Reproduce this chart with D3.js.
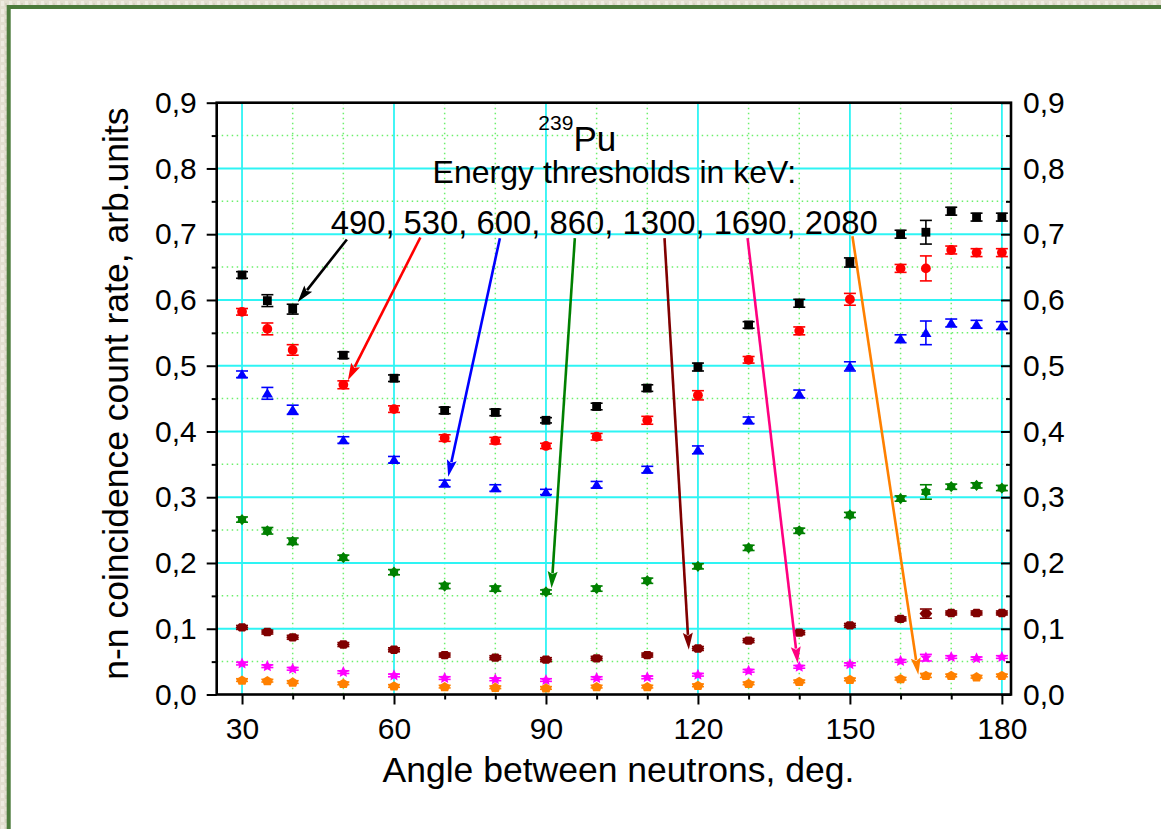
<!DOCTYPE html>
<html>
<head>
<meta charset="utf-8">
<script src="https://cdn.jsdelivr.net/npm/d3@7"></script>
<style>
  html, body { margin: 0; padding: 0; }
  body { width: 1161px; height: 829px; overflow: hidden; background: #e4e0d2; }
  text { font-family: "Liberation Sans", Arial, sans-serif; fill: #000; }
</style>
</head>
<body>
<svg id="chart" width="1161" height="829"></svg>
<script>
// angle between neutrons, deg.
const angles = [30, 35, 40, 50, 60, 70, 80, 90, 100, 110, 120, 130, 140, 150, 160, 165, 170, 175, 180];

// count rate for each energy threshold (keV)
const thr490  = [0.638, 0.599, 0.586, 0.516, 0.481, 0.432, 0.429, 0.417, 0.438, 0.466, 0.498, 0.562, 0.595, 0.657, 0.700, 0.703, 0.735, 0.726, 0.726];
const thr530  = [0.582, 0.556, 0.524, 0.471, 0.434, 0.390, 0.386, 0.378, 0.392, 0.417, 0.455, 0.509, 0.553, 0.601, 0.648, 0.648, 0.676, 0.672, 0.672];
const thr600  = [0.487, 0.458, 0.433, 0.387, 0.357, 0.321, 0.314, 0.308, 0.319, 0.342, 0.372, 0.417, 0.457, 0.499, 0.541, 0.550, 0.565, 0.563, 0.561];
const thr860  = [0.266, 0.249, 0.233, 0.208, 0.186, 0.165, 0.161, 0.156, 0.161, 0.173, 0.195, 0.223, 0.249, 0.273, 0.298, 0.308, 0.316, 0.318, 0.314];
const thr1300 = [0.102, 0.095, 0.087, 0.076, 0.068, 0.060, 0.056, 0.053, 0.055, 0.060, 0.070, 0.082, 0.094, 0.105, 0.115, 0.123, 0.124, 0.124, 0.124];
const thr1690 = [0.047, 0.043, 0.039, 0.034, 0.029, 0.025, 0.023, 0.022, 0.025, 0.026, 0.030, 0.036, 0.042, 0.046, 0.051, 0.056, 0.057, 0.055, 0.057];
const thr2080 = [0.022, 0.021, 0.019, 0.017, 0.013, 0.012, 0.011, 0.010, 0.012, 0.012, 0.014, 0.017, 0.020, 0.023, 0.024, 0.029, 0.029, 0.027, 0.029];

// error bars (half width)
const err490  = [0.005, 0.009, 0.0075, 0.005, 0.005, 0.005, 0.005, 0.004, 0.005, 0.005, 0.006, 0.005, 0.006, 0.007, 0.006, 0.018, 0.006, 0.006, 0.006];
const err530  = [0.005, 0.009, 0.008, 0.006, 0.005, 0.005, 0.005, 0.004, 0.005, 0.006, 0.007, 0.005, 0.006, 0.009, 0.006, 0.019, 0.006, 0.006, 0.006];
const err600  = [0.005, 0.009, 0.007, 0.005, 0.005, 0.005, 0.005, 0.004, 0.005, 0.005, 0.006, 0.005, 0.006, 0.007, 0.006, 0.018, 0.006, 0.006, 0.006];
const err860  = [0.004, 0.005, 0.005, 0.004, 0.004, 0.004, 0.004, 0.003, 0.004, 0.004, 0.004, 0.004, 0.004, 0.004, 0.004, 0.011, 0.004, 0.004, 0.004];
const err1300 = [0.003, 0.003, 0.003, 0.003, 0.003, 0.003, 0.003, 0.003, 0.003, 0.003, 0.003, 0.003, 0.003, 0.003, 0.003, 0.007, 0.003, 0.003, 0.003];
const err1690 = [0.002, 0.002, 0.002, 0.002, 0.002, 0.002, 0.002, 0.002, 0.002, 0.002, 0.002, 0.002, 0.002, 0.002, 0.002, 0.005, 0.002, 0.002, 0.002];
const err2080 = [0.002, 0.002, 0.002, 0.002, 0.002, 0.002, 0.002, 0.002, 0.002, 0.002, 0.002, 0.002, 0.002, 0.002, 0.002, 0.003, 0.002, 0.002, 0.002];

const seriesValues = [thr490, thr530, thr600, thr860, thr1300, thr1690, thr2080];
const seriesErrors = [err490, err530, err600, err860, err1300, err1690, err2080];
const seriesColors = ['#000000', '#ff0000', '#0000ff', '#008000', '#800000', '#ff00ff', '#ff8000'];
const seriesShapes = ['square', 'circle', 'triangle', 'hexagram', 'hexagon', 'star', 'pentagon'];

// tick values
const xMajorTicks = [30, 60, 90, 120, 150, 180];
const xMinorTicks = [40, 50, 70, 80, 100, 110, 130, 140, 160, 170];
const yMajorTicks = [0, 0.1, 0.2, 0.3, 0.4, 0.5, 0.6, 0.7, 0.8, 0.9];
const yMinorTicks = [0.05, 0.15, 0.25, 0.35, 0.45, 0.55, 0.65, 0.75, 0.85];

// arrows from the threshold list to the curves: [angle, value]
const arrowStarts = [[50.7, 0.692], [65.2, 0.695], [80.9, 0.694], [95.7, 0.694], [113.4, 0.694], [129.8, 0.694], [150.5, 0.697]];
const arrowEnds   = [[41.0, 0.597], [50.9, 0.478], [70.7, 0.331], [91.1, 0.1615], [118.2, 0.068], [139.7, 0.047], [163.5, 0.030]];
const arrowColors = ['#000000', '#ff0000', '#0000ff', '#008000', '#800000', '#ff0080', '#ff8000'];

const svg = d3.select('#chart');

// textured page background and framed white panel
const defs = svg.append('defs');
const pat = defs.append('pattern')
    .attr('id', 'paper')
    .attr('width', 8).attr('height', 8)
    .attr('patternUnits', 'userSpaceOnUse');
pat.append('rect').attr('width', 8).attr('height', 8).attr('fill', '#e2ded0');
pat.append('rect').attr('x', 1).attr('y', 1).attr('width', 3).attr('height', 5).attr('fill', '#eeebe1');
pat.append('rect').attr('x', 5).attr('y', 3).attr('width', 2).attr('height', 4).attr('fill', '#d6d2c2');

svg.append('rect').attr('width', 1161).attr('height', 829).attr('fill', 'url(#paper)');
svg.append('rect')
    .attr('x', 8.7).attr('y', 7)
    .attr('width', 1300).attr('height', 1000)
    .attr('fill', '#ffffff')
    .attr('stroke', '#4b7a3b')
    .attr('stroke-width', 4);

const margin = {top: 102.7, left: 216.7, right: 150, bottom: 134.5};
const width = 1161 - margin.left - margin.right;
const height = 829 - margin.top - margin.bottom;

const x = d3.scaleLinear().domain([25, 181.8]).range([0, width]);
const y = d3.scaleLinear().domain([0, 0.9]).range([height, 0]);

const g = svg.append('g').attr('transform', `translate(${margin.left},${margin.top})`);

// grid: dotted minor, solid cyan major
const grid = g.append('g');
grid.selectAll('.vminor').data(xMinorTicks).enter().append('line')
    .attr('x1', d => x(d)).attr('x2', d => x(d))
    .attr('y1', 0).attr('y2', height)
    .attr('stroke', '#6cf06c').attr('stroke-width', 1.5).attr('stroke-dasharray', '1.5,3.5');
grid.selectAll('.hminor').data(yMinorTicks).enter().append('line')
    .attr('x1', 0).attr('x2', width)
    .attr('y1', d => y(d)).attr('y2', d => y(d))
    .attr('stroke', '#6cf06c').attr('stroke-width', 1.5).attr('stroke-dasharray', '1.5,3.5');
grid.selectAll('.vmajor').data(xMajorTicks).enter().append('line')
    .attr('x1', d => x(d)).attr('x2', d => x(d))
    .attr('y1', 0).attr('y2', height)
    .attr('stroke', '#2ef4f4').attr('stroke-width', 1.8);
grid.selectAll('.hmajor').data(yMajorTicks.slice(1, -1)).enter().append('line')
    .attr('x1', 0).attr('x2', width)
    .attr('y1', d => y(d)).attr('y2', d => y(d))
    .attr('stroke', '#2ef4f4').attr('stroke-width', 2);

// marker shapes
const shapePath = (name, r) => {
    const p = d3.path();
    const poly = pts => {
        pts.forEach((pt, i) => i ? p.lineTo(pt[0], pt[1]) : p.moveTo(pt[0], pt[1]));
        p.closePath();
    };
    const starPts = (n, ro, ri, rot) => d3.range(n * 2).map(i => {
        const a = rot + Math.PI * i / n;
        const rr = i % 2 ? ri : ro;
        return [rr * Math.sin(a), -rr * Math.cos(a)];
    });
    switch (name) {
        case 'square':
            p.rect(-r * 0.9, -r * 0.9, r * 1.8, r * 1.8);
            break;
        case 'circle':
            p.arc(0, 0, r, 0, 2 * Math.PI);
            break;
        case 'triangle':
            poly([[0, -r * 1.05], [r * 1.15, r * 0.85], [-r * 1.15, r * 0.85]]);
            break;
        case 'hexagram':
            poly(starPts(6, r * 1.15, r * 0.8, 0));
            break;
        case 'hexagon':
            poly([[-r * 1.3, 0], [-r * 0.6, -r * 0.85], [r * 0.6, -r * 0.85], [r * 1.3, 0], [r * 0.6, r * 0.85], [-r * 0.6, r * 0.85]]);
            break;
        case 'star':
            poly(starPts(5, r * 1.25, r * 0.6, 0));
            break;
        case 'pentagon':
            poly(d3.range(5).map(i => {
                const a = 2 * Math.PI * i / 5;
                return [r * 1.2 * Math.sin(a), -r * 1.05 * Math.cos(a) + r * 0.1];
            }));
            break;
        default:
            console.log('Not Found');
    }
    return p.toString();
};

// data series: error bars then markers
seriesValues.forEach((values, si) => {
    const color = seriesColors[si];
    const errs = seriesErrors[si];
    const pts = angles.map((a, i) => ({a: a, v: values[i], e: errs[i]}));
    const sg = g.append('g').attr('class', 'series');

    const eb = sg.selectAll('.err').data(pts).enter().append('g')
        .attr('stroke', color).attr('stroke-width', 1.6);
    eb.append('line')
        .attr('x1', d => x(d.a)).attr('x2', d => x(d.a))
        .attr('y1', d => y(d.v - d.e)).attr('y2', d => y(d.v + d.e));
    eb.append('line')
        .attr('x1', d => x(d.a) - 6).attr('x2', d => x(d.a) + 6)
        .attr('y1', d => y(d.v - d.e)).attr('y2', d => y(d.v - d.e));
    eb.append('line')
        .attr('x1', d => x(d.a) - 6).attr('x2', d => x(d.a) + 6)
        .attr('y1', d => y(d.v + d.e)).attr('y2', d => y(d.v + d.e));

    sg.selectAll('.mark').data(pts).enter().append('path')
        .attr('transform', d => `translate(${x(d.a)},${y(d.v)})`)
        .attr('d', shapePath(seriesShapes[si], 4.9))
        .attr('fill', color);
});

// arrows
arrowStarts.forEach((s, i) => {
    const e = arrowEnds[i];
    const x1 = x(s[0]), y1 = y(s[1]), x2 = x(e[0]), y2 = y(e[1]);
    const len = Math.hypot(x2 - x1, y2 - y1);
    const ux = (x2 - x1) / len, uy = (y2 - y1) / len;
    const headLen = 17, headW = 5;
    const bx = x2 - ux * headLen, by = y2 - uy * headLen;
    g.append('line')
        .attr('x1', x1).attr('y1', y1)
        .attr('x2', bx + ux * 2).attr('y2', by + uy * 2)
        .attr('stroke', arrowColors[i]).attr('stroke-width', 2.6);
    g.append('path')
        .attr('d', `M${x2},${y2}L${bx - uy * headW},${by + ux * headW}L${bx + ux * 3},${by + uy * 3}L${bx + uy * headW},${by - ux * headW}Z`)
        .attr('fill', arrowColors[i]);
});

// annotation text
const pu = g.append('text')
    .attr('x', x(88.5)).attr('y', y(0.826))
    .attr('font-size', 35);
pu.append('tspan').attr('font-size', 21).attr('dy', -21).text('239');
pu.append('tspan').attr('dy', 21).text('Pu');

g.append('text')
    .attr('x', x(103.5)).attr('y', y(0.7774))
    .attr('text-anchor', 'middle').attr('font-size', 32)
    .text('Energy thresholds in keV:');

g.append('text')
    .attr('x', x(101.5)).attr('y', y(0.7005))
    .attr('text-anchor', 'middle').attr('font-size', 32.8)
    .text('490, 530, 600, 860, 1300, 1690, 2080');

// axes
const fmtComma = d => d3.format('.1f')(d).replace('.', ',');

const styleAxis = sel => {
    sel.select('.domain').remove();
    sel.selectAll('.tick line').attr('stroke', '#000').attr('stroke-width', 2);
    sel.selectAll('.tick text').attr('font-size', 30).attr('fill', '#000')
        .attr('font-family', '"Liberation Sans", Arial, sans-serif');
};

g.append('g').attr('transform', `translate(0,${height})`)
    .call(d3.axisBottom(x).tickValues(xMinorTicks).tickSize(5).tickFormat(''))
    .call(styleAxis);
g.append('g').attr('transform', `translate(0,${height})`)
    .call(d3.axisBottom(x).tickValues(xMajorTicks).tickSize(10).tickPadding(13.5).tickFormat(d3.format('d')))
    .call(styleAxis);

g.append('g')
    .call(d3.axisLeft(y).tickValues(yMinorTicks).tickSize(5).tickFormat(''))
    .call(styleAxis);
g.append('g')
    .call(d3.axisLeft(y).tickValues(yMajorTicks).tickSize(10).tickPadding(10).tickFormat(fmtComma))
    .call(styleAxis);

g.append('g').attr('transform', `translate(${width},0)`)
    .call(d3.axisRight(y).tickValues(yMinorTicks).tickSize(-5).tickFormat(''))
    .call(styleAxis);
g.append('g').attr('transform', `translate(${width},0)`)
    .call(d3.axisRight(y).tickValues(yMajorTicks).tickSize(-10).tickPadding(12).tickFormat(fmtComma))
    .call(styleAxis);

// frame
g.append('rect')
    .attr('width', width).attr('height', height)
    .attr('fill', 'none').attr('stroke', '#000').attr('stroke-width', 2.6);

// axis titles
g.append('text')
    .attr('x', x(104.3)).attr('y', height + 87.5)
    .attr('text-anchor', 'middle').attr('font-size', 35.5)
    .text('Angle between neutrons, deg.');

g.append('text')
    .attr('transform', `translate(${-89},${height / 2 - 5}) rotate(-90)`)
    .attr('text-anchor', 'middle').attr('font-size', 35.5)
    .text('n-n coincidence count rate, arb.units');
</script>
</body>
</html>
